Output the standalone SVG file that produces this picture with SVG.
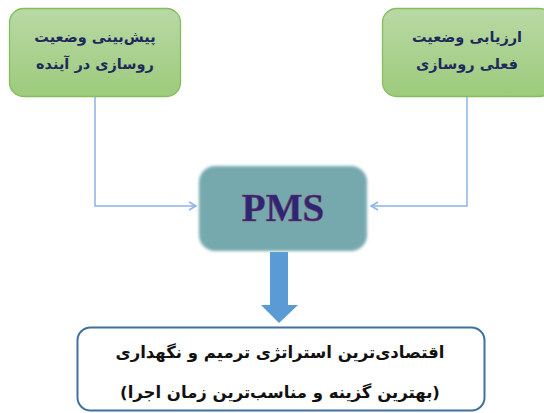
<svg xmlns="http://www.w3.org/2000/svg" width="544" height="413" viewBox="0 0 544 413">
<style>
.g{stroke:#86bb5e;stroke-width:1.3;fill:url(#gg)}
.gt{font-family:"DejaVu Sans","Noto Sans",sans-serif;font-weight:bold;font-size:14.5px;fill:#1f2a5c;text-anchor:middle}
.c{fill:none;stroke:#8db4e2;stroke-width:1.5}
.bt{font-family:"DejaVu Sans","Noto Sans",sans-serif;font-weight:bold;font-size:16.5px;fill:#111;text-anchor:middle}
</style>
<defs>
<linearGradient id="gg" x1="0" y1="0" x2="0" y2="1">
<stop offset="0" stop-color="#b9d9a5"/>
<stop offset="1" stop-color="#9dcb7c"/>
</linearGradient>
<filter id="soft" x="-10%" y="-10%" width="120%" height="120%">
<feGaussianBlur stdDeviation="1.8"/>
</filter>
<marker id="ah" markerWidth="10" markerHeight="10" refX="8" refY="5" orient="auto" markerUnits="userSpaceOnUse">
<path d="M1,1 L8,5 L1,9" fill="none" stroke="#8db4e2" stroke-width="1.5"/>
</marker>
</defs>
<rect width="544" height="413" fill="#fff"/>
<g id="connectors">
<path class="c" d="M95,96 V206 H196" marker-end="url(#ah)"/>
<path class="c" d="M467,96 V206 H371" marker-end="url(#ah)"/>
<path d="M270,252 H288 V305 H298 L279,323 L261,305 H270 Z" fill="#5b9bd5"/>
</g>
<g id="node-future">
<rect class="g" x="9.5" y="8.5" width="171" height="88" rx="14"/>
<text class="gt" x="95" y="42" direction="rtl">پیش‌بینی وضعیت</text>
<text class="gt" x="95" y="69" direction="rtl">روسازی در آینده</text>
</g>
<g id="node-current">
<rect class="g" x="382.5" y="8.5" width="171" height="88" rx="14"/>
<text class="gt" x="467" y="42" direction="rtl">ارزیابی وضعیت</text>
<text class="gt" x="467" y="69" direction="rtl">فعلی روسازی</text>
</g>
<g id="node-pms">
<rect x="199" y="166" width="168" height="85" rx="16" fill="#76a9ad" filter="url(#soft)"/>
<text x="283" y="221" font-family="Liberation Serif,serif" font-weight="bold" font-size="39" fill="#2b2676" stroke="#7a3a5a" stroke-width="0.6" text-anchor="middle">PMS</text>
</g>
<g id="node-strategy">
<rect x="77.5" y="327.5" width="407" height="83" rx="13" fill="#fff" stroke="#41719c" stroke-width="2"/>
<text class="bt" x="280" y="358" direction="rtl">اقتصادی‌ترین استراتژی ترمیم و نگهداری</text>
<text class="bt" x="280" y="398" direction="rtl">(بهترین گزینه و مناسب‌ترین زمان اجرا)</text>
</g>
</svg>
